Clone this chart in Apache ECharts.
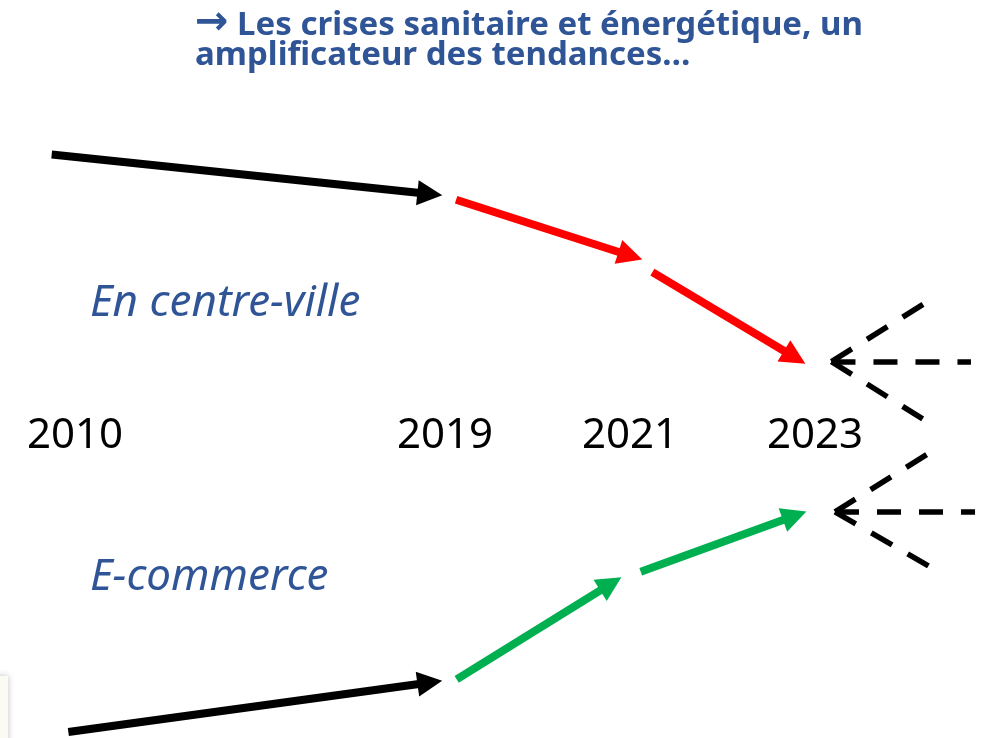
<!DOCTYPE html>
<html>
<head>
<meta charset="utf-8">
<script src="https://cdn.jsdelivr.net/npm/echarts@6/dist/echarts.min.js"></script>
<style>
  html, body { margin: 0; padding: 0; background: #fff; }
  #chart { width: 987px; height: 738px; }
</style>
</head>
<body>
<div id="chart"></div>
<script>
// x = position slot on the timeline (2010 -> 0, 2019 -> 2, 2021 -> 3, 2023 -> 4)
// y = trend level (0 = timeline row)
var years = ['2010', '2019', '2021', '2023'];
var yearSlots = [0, 2, 3, 4];

// En centre-ville
var centreBlack = [[-0.126, 64.4], [1.918, 55.3]];
var centreRed = [
	[[2.060, 54.0], [3.002, 41.1]],
	[[3.121, 37.3], [3.890, 17.7]]
];
var centreTip = [4.089, 16.7];
var centreFuture = [[4.584, 29.9], [4.843, 16.7], [4.582, 3.5]];

// E-commerce
var ecomBlack = [[-0.036, -68.6], [1.918, -57.2]];
var ecomGreen = [
	[[2.063, -56.5], [2.896, -34.5]],
	[[3.058, -31.7], [3.890, -18.8]]
];
var ecomTip = [4.108, -17.9];
var ecomFuture = [[4.612, -4.5], [4.865, -17.9], [4.622, -30.6]];

var blue = '#2F5597';

function segs(list) {
	var out = [];
	for (var i = 0; i < list.length; i++) {
		out.push({ coords: list[i] });
	}
	return out;
}

function fan(tip, ends) {
	var out = [];
	for (var i = 0; i < ends.length; i++) {
		out.push({ coords: [tip, ends[i]] });
	}
	return out;
}

function arrows(name, data, color) {
	return {
		name: name,
		type: 'lines',
		coordinateSystem: 'cartesian2d',
		data: data,
		symbol: ['none', 'triangle'],
		symbolSize: 25,
		lineStyle: { color: color, width: 8, opacity: 1, curveness: 0, cap: 'butt' },
		silent: true
	};
}

function dashed(name, data) {
	return {
		name: name,
		type: 'lines',
		coordinateSystem: 'cartesian2d',
		data: data,
		symbol: 'none',
		lineStyle: { color: '#000', width: 5.5, opacity: 1, type: [24, 18], cap: 'butt' },
		silent: true
	};
}

var yearPoints = [];
for (var i = 0; i < years.length; i++) {
	yearPoints.push({ value: [yearSlots[i], 0], name: years[i] });
}

var chart = echarts.init(document.getElementById('chart'));

var option = {
	animation: false,
	backgroundColor: '#fff',
	title: {
		text: '{arr|\u2192} Les crises sanitaire et énergétique, un\namplificateur des tendances…',
		left: 195,
		top: 11,
		padding: 0,
		textStyle: {
			color: blue,
			fontFamily: 'Noto Sans',
			fontWeight: 'bold',
			fontSize: 33,
			lineHeight: 30,
			rich: {
				arr: {
					color: blue,
					fontFamily: 'DejaVu Sans',
					fontWeight: 'bold',
					fontSize: 40,
					lineHeight: 30,
					padding: [0, 0, 4, 0]
				}
			}
		}
	},
	grid: {
		left: 0,
		right: 0,
		top: 0,
		bottom: 0
	},
	xAxis: {
		type: 'value',
		min: -0.4054,
		max: 4.9297,
		show: false
	},
	yAxis: {
		type: 'value',
		min: -70,
		max: 100,
		show: false
	},
	graphic: [
		{
			type: 'text',
			style: {
				text: 'En centre-ville',
				x: 90,
				y: 303,
				verticalAlign: 'middle',
				fill: blue,
				font: 'italic 44px "Noto Sans"'
			}
		},
		{
			type: 'text',
			style: {
				text: 'E-commerce',
				x: 90,
				y: 577,
				verticalAlign: 'middle',
				fill: blue,
				font: 'italic 44px "Noto Sans"'
			}
		},
		{
			type: 'rect',
			shape: { x: -10, y: 676, width: 18, height: 80 },
			style: {
				fill: '#FBFAF3',
				shadowBlur: 6,
				shadowColor: 'rgba(0,0,0,0.25)'
			}
		}
	],
	series: [
		{
			name: 'Années',
			type: 'scatter',
			data: yearPoints,
			symbolSize: 0,
			silent: true,
			itemStyle: { opacity: 1 },
			label: {
				show: true,
				position: 'inside',
				offset: [0, 2],
				formatter: '{b}',
				color: '#000000',
				opacity: 1,
				fontFamily: 'Noto Sans',
				fontSize: 42
			}
		},
		arrows('Centre 2010-2019', segs([centreBlack]), '#000'),
		arrows('Centre 2019-2023', segs(centreRed), '#FF0000'),
		dashed('Centre après 2023', fan(centreTip, centreFuture)),
		arrows('E-commerce 2010-2019', segs([ecomBlack]), '#000'),
		arrows('E-commerce 2019-2023', segs(ecomGreen), '#00B050'),
		dashed('E-commerce après 2023', fan(ecomTip, ecomFuture))
	]
};

chart.setOption(option);
</script>
</body>
</html>
